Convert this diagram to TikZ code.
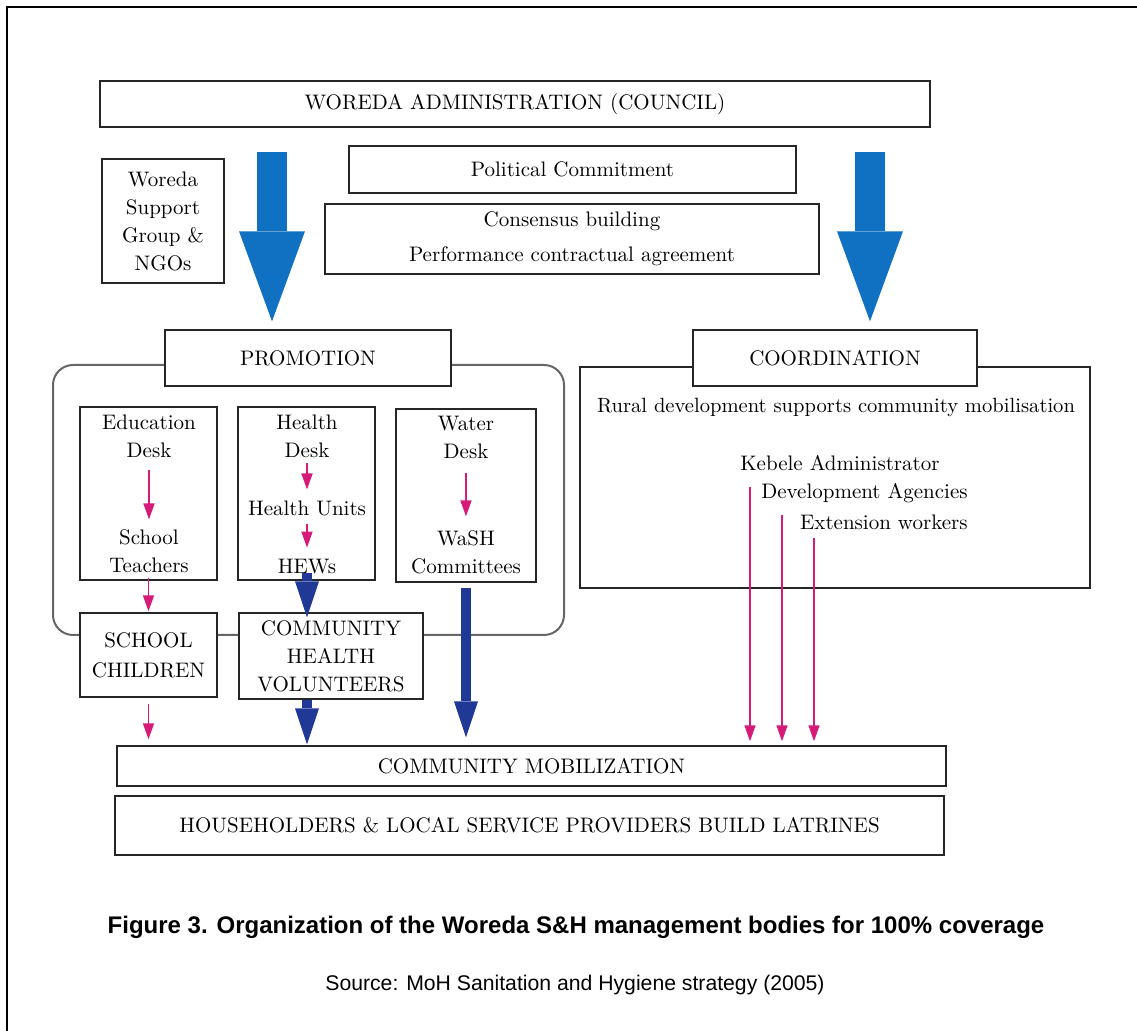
\documentclass[tikz,border=0pt]{standalone}
\usepackage{fontspec}
\newfontfamily\capfont{Liberation Sans}
\usetikzlibrary{arrows.meta}
\definecolor{bigblue}{RGB}{16,112,194}
\definecolor{navyblue}{RGB}{32,56,150}
\definecolor{pinkline}{RGB}{214,26,122}

\begin{document}
\begin{tikzpicture}[x=0.5pt, y=-0.5pt,
		box/.style={draw=black!85, line width=0.7pt, fill=white, align=center, inner sep=0pt},
		txt/.style={align=center, inner sep=2pt},
		bigarrow/.style={bigblue, line width=15pt, -{Triangle[length=45pt, width=33pt, line width=0pt]}},
		navyarrow/.style={navyblue, line width=5pt, -{Triangle[length=18pt, width=12pt, line width=0pt]}},
		pinkarrow/.style={pinkline, line width=0.8pt, -{Triangle[length=8pt, width=5.5pt]}},
		font=\fontsize{10.5}{14}\selectfont]
	\useasboundingbox (0,0) rectangle (1137,1031);
	\draw[line width=1pt] (7,1031) |- (1137,7);
	
	% council level
	\node[box, minimum width=415pt, minimum height=23pt] (woreda) at (515,104) {WOREDA ADMINISTRATION (COUNCIL)};
	\node[box, minimum width=61pt, minimum height=62pt] (support) at (163,221) {Woreda\\Support\\Group \&\\NGOs};
	\node[box, minimum width=223.5pt, minimum height=23.5pt] (political) at (572.5,169.5) {Political Commitment};
	\node[box, minimum width=247pt, minimum height=35pt] (consensus) at (572,239) {Consensus building\\[3.5pt]Performance contractual agreement};
	\coordinate (promoflow) at (272,127);
	\coordinate (coordflow) at (870,127);
	
	% promotion
	\node[draw=black!60, line width=1pt, rounded corners=10pt, minimum width=255.5pt, minimum height=135pt] (promoarea) at (308.5,500) {};
	\node[box, minimum width=143pt, minimum height=28pt] (promo) at (308,358) {PROMOTION};
	\node[box, minimum width=68.5pt, minimum height=86.5pt] (edubox) at (148.5,493.5) {};
	\node[box, minimum width=68.5pt, minimum height=86.5pt] (healthbox) at (306.5,493.5) {};
	\node[box, minimum width=70pt, minimum height=86.5pt] (waterbox) at (466,495.5) {};
	\node[txt] (edudesk) at (149,436) {Education\\Desk};
	\node[txt] (teachers) at (149,551) {School\\Teachers};
	\node[txt] (healthdesk) at (307,436) {Health\\Desk};
	\node[txt] (units) at (307,508) {Health Units};
	\node[txt] (hews) at (307,567) {HEWs};
	\node[txt] (waterdesk) at (466,437) {Water\\Desk};
	\node[txt] (wash) at (466,552) {WaSH\\Committees};
	\node[box, minimum width=68.5pt, minimum height=42pt] (children) at (148.5,655) {SCHOOL\\[1pt]CHILDREN};
	\node[box, minimum width=92pt, minimum height=43pt] (chv) at (331,656) {COMMUNITY\\HEALTH\\VOLUNTEERS};
	
	% coordination
	\node[box, minimum width=255pt, minimum height=110.5pt] (coordbox) at (835,477.5) {};
	\node[box, minimum width=142pt, minimum height=28pt] (coord) at (835,358) {COORDINATION};
	\node[txt, font=\fontsize{10.3}{14}\selectfont] (rural) at (836,407) {Rural development supports community mobilisation};
	\node[txt, anchor=west] (kebele) at (736,463) {Kebele Administrator};
	\node[txt, anchor=east] (devag) at (972,493) {Development Agencies};
	\node[txt, anchor=east] (extw) at (972,522) {Extension workers};
	\coordinate (kebeleline) at (750,487);
	\coordinate (devagline) at (782,515);
	\coordinate (extwline) at (814,538);
	
	% community level
	\node[box, minimum width=414.5pt, minimum height=20pt] (mobil) at (531.5,766) {COMMUNITY MOBILIZATION};
	\node[box, minimum width=414.5pt, minimum height=29.5pt] (house) at (529.5,825.5) {HOUSEHOLDERS \& LOCAL SERVICE PROVIDERS BUILD LATRINES};
	
	\draw[bigarrow, shorten <=12.5pt, shorten >=4pt] (promoflow) -- (promoflow |- promo.north);
	\draw[bigarrow, shorten <=12.5pt, shorten >=4pt] (coordflow) -- (coordflow |- coord.north);
	
	\draw[pinkarrow, shorten <=4.3pt, shorten >=2.8pt] (edudesk) -- (teachers);
	\draw[pinkarrow, shorten <=-1.5pt, shorten >=0.5pt] (edubox.south) -- (children.north);
	\draw[pinkarrow, shorten <=3pt, shorten >=3pt] (children) -- (children |- mobil.north);
	\draw[pinkarrow, shorten <=0.8pt, shorten >=3.3pt] (healthdesk) -- (units);
	\draw[pinkarrow, shorten <=1.8pt, shorten >=3.8pt] (units) -- (hews);
	\draw[pinkarrow, shorten <=5.3pt, shorten >=4.8pt] (waterdesk) -- (wash);
	
	\draw[navyarrow, shorten <=3pt, shorten >=-2.5pt] (hews.center) -- (hews.center |- chv.north);
	\draw[navyarrow, shorten >=0.5pt] (hews |- chv.south) -- (hews |- mobil.north);
	\draw[navyarrow, shorten <=2.5pt, shorten >=4pt] (wash |- waterbox.south) -- (wash |- mobil.north);
	
	\draw[pinkarrow, shorten >=2pt] (kebeleline) -- (kebeleline |- mobil.north);
	\draw[pinkarrow, shorten >=2pt] (devagline) -- (devagline |- mobil.north);
	\draw[pinkarrow, shorten >=2pt] (extwline) -- (extwline |- mobil.north);
	
	\node[font=\capfont\bfseries\fontsize{12}{14}\selectfont] (caption) at (576,927) {Figure 3. Organization of the Woreda S\&H management bodies for 100\% coverage};
	\node[font=\capfont\fontsize{10.6}{12}\selectfont] (source) at (575,985) {Source: MoH Sanitation and Hygiene strategy (2005)};
\end{tikzpicture}
\end{document}
